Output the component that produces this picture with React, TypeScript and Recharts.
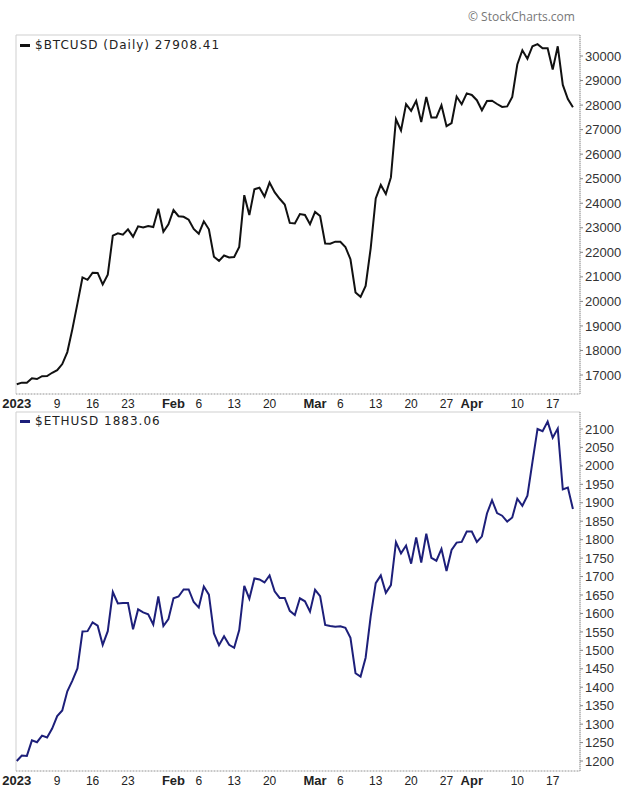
import React from 'react';
import { LineChart, Line, XAxis, YAxis, ReferenceArea } from 'recharts';

// daily closes, Jan 1 – Apr 21 2023 (one value per calendar day)
const btcClose = [
  16625, 16688, 16680, 16863, 16836, 16951, 16955, 17091, 17196, 17446,
  17934, 18869, 19910, 20976, 20880, 21170, 21161, 20689, 21086, 22677,
  22777, 22720, 22934, 22637, 23058, 23009, 23075, 23031, 23774, 22840,
  23139, 23723, 23471, 23449, 23331, 22955, 22760, 23264, 22939, 21819,
  21651, 21870, 21788, 21809, 22220, 24327, 23517, 24570, 24631, 24271,
  24842, 24452, 24183, 23947, 23198, 23175, 23561, 23522, 23147, 23646,
  23476, 22362, 22354, 22435, 22429, 22219, 21718, 20363, 20187, 20633,
  22163, 24197, 24746, 24375, 25052, 27423, 26965, 28038, 27767, 28175,
  27307, 28333, 27493, 27494, 27994, 27139, 27268, 28348, 28033, 28478,
  28411, 28199, 27790, 28168, 28177, 28044, 27925, 27947, 28333, 29653,
  30236, 29892, 30399, 30485, 30318, 30315, 29446, 30397, 28822, 28245,
  27908,
];

const ethClose = [
  1200, 1215, 1214, 1256, 1251, 1269, 1264, 1288, 1322, 1337,
  1389, 1418, 1451, 1551, 1552, 1576, 1567, 1515, 1552, 1658,
  1627, 1628, 1628, 1557, 1611, 1603, 1598, 1570, 1646, 1566,
  1585, 1641, 1646, 1665, 1665, 1631, 1616, 1673, 1651, 1546,
  1514, 1538, 1515, 1507, 1555, 1675, 1640, 1695, 1692, 1684,
  1703, 1660, 1642, 1642, 1607, 1596, 1641, 1633, 1605, 1664,
  1647, 1569, 1566, 1564, 1565, 1561, 1534, 1438, 1429, 1480,
  1592, 1682, 1703, 1656, 1677, 1793, 1763, 1784, 1735, 1806,
  1738, 1816, 1751, 1743, 1775, 1715, 1772, 1792, 1794, 1822,
  1822, 1794, 1809, 1871, 1907, 1872, 1865, 1849, 1860, 1911,
  1892, 1919, 2011, 2100, 2094, 2120, 2076, 2101, 1936, 1941,
  1883,
];

const tickDays = [0, 8, 15, 22, 31, 36, 43, 50, 59, 64, 71, 78, 85, 90, 99, 106];
const tickLabels = ['2023', '9', '16', '23', 'Feb', '6', '13', '20', 'Mar', '6', '13', '20', '27', 'Apr', '10', '17'];

const btcTicks = [17000, 18000, 19000, 20000, 21000, 22000, 23000, 24000, 25000, 26000, 27000, 28000, 29000, 30000];
const ethTicks = [1200, 1250, 1300, 1350, 1400, 1450, 1500, 1550, 1600, 1650, 1700, 1750, 1800, 1850, 1900, 1950, 2000, 2050, 2100];

const rows = btcClose.map((btc, i) => ({ day: i, btc, eth: ethClose[i] }));

const xDomain: [number, number] = [-0.15, 111.4];
const arial = "'Liberation Sans', Arial, sans-serif";

const DateTick = (props: any) => {
  const { x, y, payload } = props;
  const label = tickLabels[tickDays.indexOf(payload.value)];
  const bold = label.length > 2;
  return (
    <text
      x={x}
      y={y + 12}
      textAnchor="middle"
      fill="#222"
      fontFamily={arial}
      fontSize={bold ? 13 : 12}
      fontWeight={bold ? 700 : 400}
    >
      {label}
    </text>
  );
};

interface PanelProps {
  dataKey: string;
  color: string;
  domain: [number, number];
  ticks: number[];
  top: number;
  height: number;
  marginTop: number;
  axisHeight: number;
  legend: string;
  legendTop: number;
}

const PricePanel = ({ dataKey, color, domain, ticks, top, height, marginTop, axisHeight, legend, legendTop }: PanelProps) => (
  <div style={{ position: 'absolute', left: 0, top, width: 625, height }}>
    <LineChart width={625} height={height} data={rows} margin={{ top: marginTop, right: 0, bottom: 0, left: 16 }}>
      <XAxis
        dataKey="day"
        type="number"
        domain={xDomain}
        allowDataOverflow
        ticks={tickDays}
        interval={0}
        tickLine={false}
        tickSize={0}
        height={axisHeight}
        axisLine={{ stroke: '#aaa', strokeDasharray: '1 2' }}
        tick={DateTick}
      />
      <YAxis
        orientation="right"
        domain={domain}
        allowDataOverflow
        ticks={ticks}
        interval={0}
        width={45}
        tickSize={3}
        tickMargin={2}
        axisLine={{ stroke: '#999', strokeDasharray: '1 1' }}
        tickLine={{ stroke: '#888' }}
        tick={{ fill: '#333', fontSize: 13, fontFamily: arial }}
      />
      <ReferenceArea
        x1={xDomain[0]}
        x2={xDomain[1]}
        y1={domain[0]}
        y2={domain[1]}
        fill="none"
        stroke="#cfcfcf"
        strokeWidth={1}
      />
      <Line
        type="linear"
        dataKey={dataKey}
        stroke={color}
        strokeWidth={2}
        dot={false}
        isAnimationActive={false}
      />
    </LineChart>
    <div
      style={{
        position: 'absolute',
        left: 20,
        top: legendTop,
        height: 14,
        lineHeight: '14px',
        display: 'flex',
        alignItems: 'center',
        fontFamily: "'DejaVu Sans', Verdana, sans-serif",
        fontSize: 12,
        letterSpacing: 1,
        color: '#222',
        whiteSpace: 'nowrap',
      }}
    >
      <span style={{ display: 'inline-block', width: 10, height: 3, background: color, marginRight: 5 }} />
      {legend}
    </div>
  </div>
);

export default function App() {
  return (
    <div style={{ position: 'absolute', left: 0, top: 0, width: 625, height: 788, background: '#fff' }}>
      <div
        style={{
          position: 'absolute',
          left: 468,
          top: 8,
          fontFamily: "'Open Sans', sans-serif",
          fontSize: 12,
          color: '#777',
        }}
      >
        © StockCharts.com
      </div>
      <PricePanel
        dataKey="btc"
        color="#111"
        domain={[16226, 30856]}
        ticks={btcTicks}
        top={0}
        height={412}
        marginTop={35}
        axisHeight={18}
        legend="$BTCUSD (Daily) 27908.41"
        legendTop={38}
      />
      <PricePanel
        dataKey="eth"
        color="#1d1f7a"
        domain={[1173, 2146]}
        ticks={ethTicks}
        top={411}
        height={377}
        marginTop={1}
        axisHeight={17}
        legend="$ETHUSD 1883.06"
        legendTop={3}
      />
    </div>
  );
}
